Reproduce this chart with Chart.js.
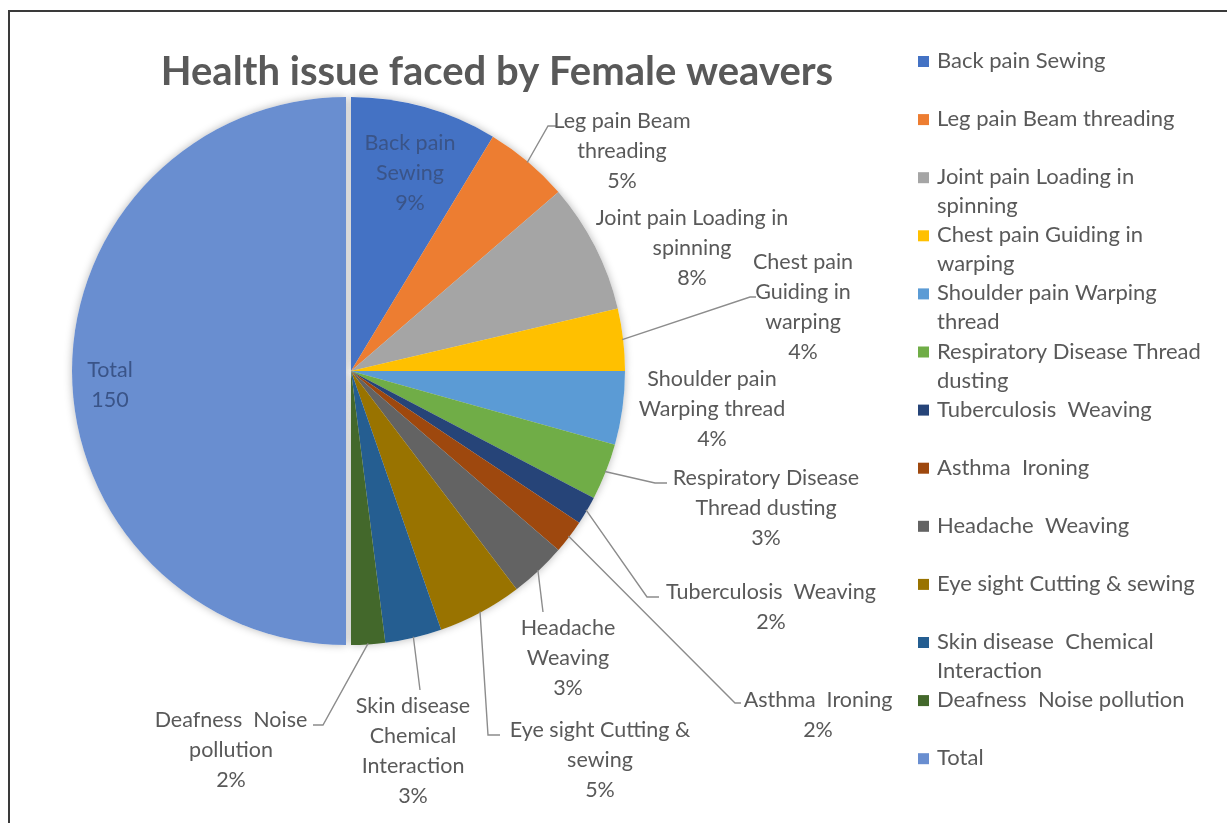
<!DOCTYPE html>
<html>
<head>
<meta charset="utf-8">
<script src="https://cdn.jsdelivr.net/npm/chart.js@4.4.0/dist/chart.umd.min.js"></script>
<style>
html,body{margin:0;padding:0;background:#fff;}
#wrap{position:relative;width:1227px;height:823px;overflow:hidden;}
#frame{position:absolute;left:8px;top:10px;width:1230px;height:830px;border-top:2px solid #3a3a3a;border-left:2px solid #3a3a3a;}
#c{position:absolute;left:0;top:0;}
</style>
</head>
<body>
<div id="wrap"><div id="frame"></div><canvas id="c" width="1227" height="823"></canvas></div>
<script>
// ---- data ----
const chartTitle = 'Health issue faced by Female weavers';
const categories = [
  'Back pain Sewing',
  'Leg pain Beam threading',
  'Joint pain Loading in spinning',
  'Chest pain Guiding in warping',
  'Shoulder pain Warping thread',
  'Respiratory Disease Thread dusting',
  'Tuberculosis  Weaving',
  'Asthma  Ironing',
  'Headache  Weaving',
  'Eye sight Cutting & sewing',
  'Skin disease  Chemical Interaction',
  'Deafness  Noise pollution',
  'Total'
];
const values = [26, 15, 23, 11, 13, 10, 5, 6, 10, 15, 10, 6, 150];
// data-label text lines (category name wrapped as in the original)
const labelLines = [
  ['Back pain', 'Sewing'],
  ['Leg pain Beam', 'threading'],
  ['Joint pain Loading in', 'spinning'],
  ['Chest pain', 'Guiding in', 'warping'],
  ['Shoulder pain', 'Warping thread'],
  ['Respiratory Disease', 'Thread dusting'],
  ['Tuberculosis  Weaving'],
  ['Asthma  Ironing'],
  ['Headache', 'Weaving'],
  ['Eye sight Cutting &', 'sewing'],
  ['Skin disease', 'Chemical', 'Interaction'],
  ['Deafness  Noise', 'pollution'],
  ['Total']
];
const legendLines = [
  ['Back pain Sewing'],
  ['Leg pain Beam threading'],
  ['Joint pain Loading in', 'spinning'],
  ['Chest pain Guiding in', 'warping'],
  ['Shoulder pain Warping', 'thread'],
  ['Respiratory Disease Thread', 'dusting'],
  ['Tuberculosis  Weaving'],
  ['Asthma  Ironing'],
  ['Headache  Weaving'],
  ['Eye sight Cutting & sewing'],
  ['Skin disease  Chemical', 'Interaction'],
  ['Deafness  Noise pollution'],
  ['Total']
];

// ---- styles ----
const colors = ['#4472C4','#ED7D31','#A5A5A5','#FFC000','#5B9BD5','#70AD47',
                '#264478','#9E480E','#636363','#997300','#255E91','#43682B','#698ED0'];
const FONT = 'Lato, Carlito, Calibri, "Open Sans", sans-serif';
const TEXT_COLOR = '#595959';
const INSIDE_COLOR = '#3A5488';
const LEADER_COLOR = '#8C8C8C';
const explodeIndex = 12, explodePx = 5;
// label placement: text centre x, first line centre y, inside flag, leader bend points
const labelPlace = [
  {x:410, y:143, inside:true},
  {x:622, y:121, pts:[[548,126],[557,126]]},
  {x:692, y:218},
  {x:803, y:262, pts:[[750,297],[756,297]]},
  {x:712, y:379},
  {x:766, y:478, pts:[[655,483],[667,483]]},
  {x:771, y:592, pts:[[647,597],[659,597]]},
  {x:818, y:700, pts:[[735,703],[741,703]]},
  {x:568, y:628, pts:[[543,612]]},
  {x:600, y:730, pts:[[488,735],[500,735]]},
  {x:413, y:706, pts:[[420,690]]},
  {x:231, y:720, pts:[[323,725],[313,725]]},
  {x:110, y:370, inside:true, showValue:true}
];

const grand = values.reduce((a,b)=>a+b,0);

const explodePlugin = {
  id:'explode',
  afterUpdate(chart){
    const arc = chart.getDatasetMeta(0).data[explodeIndex];
    const mid = (arc.startAngle + arc.endAngle)/2;
    arc.x += Math.cos(mid)*explodePx;
    arc.y += Math.sin(mid)*explodePx;
  }
};

const glowPlugin = {
  id:'glow',
  beforeDatasetsDraw(chart){
    const ctx = chart.ctx;
    const arcs = chart.getDatasetMeta(0).data;
    ctx.save();
    ctx.shadowColor = 'rgba(0,0,0,0.28)';
    ctx.shadowBlur = 9;
    ctx.fillStyle = '#fff';
    arcs.forEach(a=>{
      ctx.beginPath();
      ctx.moveTo(a.x,a.y);
      ctx.arc(a.x,a.y,a.outerRadius,a.startAngle,a.endAngle);
      ctx.closePath();
      ctx.fill();
    });
    ctx.restore();
  }
};

const textPlugin = {
  id:'texts',
  afterDatasetsDraw(chart){
    const ctx = chart.ctx;
    const arcs = chart.getDatasetMeta(0).data;
    ctx.save();
    // title
    ctx.fillStyle = TEXT_COLOR;
    ctx.font = 'bold 40px ' + FONT;
    ctx.textAlign = 'center';
    ctx.textBaseline = 'middle';
    ctx.fillText(chartTitle, 497, 72);

    // data labels
    ctx.font = '21.5px ' + FONT;
    arcs.forEach((a,i)=>{
      const p = labelPlace[i];
      const pct = Math.round(values[i]/grand*100) + '%';
      const lines = labelLines[i].concat([p.showValue ? String(values[i]) : pct]);
      if (p.pts){
        const mid = (a.startAngle + a.endAngle)/2;
        const r = a.outerRadius - 1;
        ctx.beginPath();
        ctx.moveTo(a.x + Math.cos(mid)*r, a.y + Math.sin(mid)*r);
        p.pts.forEach(q=>ctx.lineTo(q[0],q[1]));
        ctx.strokeStyle = LEADER_COLOR;
        ctx.lineWidth = 1.4;
        ctx.stroke();
      }
      ctx.fillStyle = p.inside ? INSIDE_COLOR : TEXT_COLOR;
      lines.forEach((t,k)=>ctx.fillText(t, p.x, p.y + k*30));
    });

    // legend
    ctx.textAlign = 'left';
    ctx.font = '22px ' + FONT;
    categories.forEach((c,i)=>{
      const yc = 61 + i*58.1;
      ctx.fillStyle = colors[i];
      ctx.fillRect(918, yc-5, 11, 11);
      ctx.fillStyle = TEXT_COLOR;
      legendLines[i].forEach((t,k)=>ctx.fillText(t, 937, yc + k*29));
    });
    ctx.restore();
  }
};

new Chart(document.getElementById('c'), {
  type:'pie',
  data:{
    labels: categories,
    datasets:[{
      data: values,
      backgroundColor: colors,
      borderWidth: 0
    }]
  },
  options:{
    responsive:false,
    animation:false,
    layout:{padding:{left:77, top:97, right:1227-625, bottom:823-645}},
    plugins:{legend:{display:false}, title:{display:false}, tooltip:{enabled:false}}
  },
  plugins:[explodePlugin, glowPlugin, textPlugin]
});
</script>
</body>
</html>
